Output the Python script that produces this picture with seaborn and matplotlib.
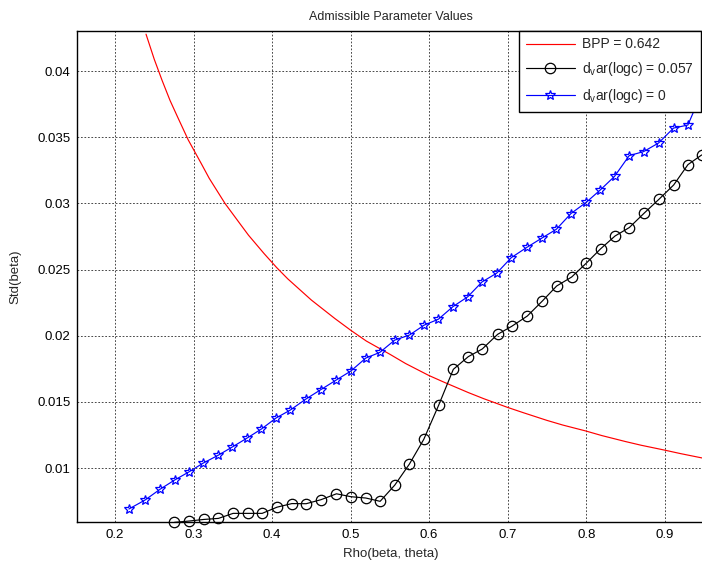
import matplotlib
matplotlib.use("Agg")
import matplotlib.pyplot as plt
import seaborn as sns
import pandas as pd

# ---- data ----
bpp_x = [0.2395, 0.25, 0.26, 0.27, 0.28, 0.2933, 0.31, 0.32, 0.3401, 0.36, 0.37,
         0.39, 0.4059, 0.42, 0.45, 0.48, 0.5005, 0.52, 0.55, 0.57, 0.5995, 0.62,
         0.65, 0.67, 0.70, 0.72, 0.75, 0.77, 0.7994, 0.82, 0.85, 0.87, 0.90, 0.92,
         0.9475]
bpp_y = [0.0428, 0.0409, 0.0393, 0.0378, 0.0365, 0.0348, 0.0330, 0.0319, 0.0300,
         0.0284, 0.0276, 0.0262, 0.02515, 0.0243, 0.0227, 0.0213, 0.0204, 0.0196,
         0.0186, 0.0179, 0.0170, 0.01646, 0.0157, 0.01523, 0.01458, 0.01418, 0.0136,
         0.01325, 0.01280, 0.01245, 0.0120, 0.01172, 0.01135, 0.01109, 0.01076]

dv57_x = [0.2757, 0.2944, 0.3131, 0.3317, 0.3504, 0.3692, 0.3874, 0.4064, 0.4252,
          0.4434, 0.4621, 0.4820, 0.5003, 0.5194, 0.5376, 0.5563, 0.5749, 0.5932,
          0.6123, 0.6308, 0.6499, 0.6677, 0.6873, 0.7051, 0.7250, 0.7441, 0.7624,
          0.7815, 0.7998, 0.8185, 0.8367, 0.8549, 0.8740, 0.8927, 0.9114, 0.9296,
          0.9471]
dv57_y = [0.00589, 0.00599, 0.00611, 0.00619, 0.00657, 0.00657, 0.00657, 0.00704,
          0.00731, 0.00730, 0.00760, 0.00805, 0.00783, 0.00773, 0.00748, 0.00871,
          0.01030, 0.01217, 0.01477, 0.01746, 0.01842, 0.01900, 0.02011, 0.02071,
          0.02149, 0.02262, 0.02376, 0.02444, 0.02547, 0.02658, 0.02754, 0.02818,
          0.02928, 0.03032, 0.03140, 0.03294, 0.03367]

dv0_x = [0.2177, 0.2383, 0.2578, 0.2759, 0.2940, 0.3126, 0.3313, 0.3494, 0.3684,
         0.3865, 0.4051, 0.4232, 0.4430, 0.4617, 0.4817, 0.5003, 0.5193, 0.5372,
         0.5562, 0.5749, 0.5936, 0.6118, 0.6305, 0.6491, 0.6674, 0.6860, 0.7047,
         0.7247, 0.7432, 0.7620, 0.7806, 0.8001, 0.8179, 0.8361, 0.8548, 0.8730,
         0.8921, 0.9112, 0.9295, 0.9480]
dv0_y = [0.00690, 0.00758, 0.00841, 0.00909, 0.00970, 0.01038, 0.01096, 0.01159,
         0.01227, 0.01295, 0.01378, 0.01438, 0.01521, 0.01591, 0.01665, 0.01733,
         0.01831, 0.01874, 0.01967, 0.02005, 0.02080, 0.02125, 0.02221, 0.02294,
         0.02407, 0.02473, 0.02591, 0.02669, 0.02737, 0.02805, 0.02924, 0.03009,
         0.03102, 0.03205, 0.03362, 0.03392, 0.03457, 0.03570, 0.03593, 0.03850]

x_ticks = [0.2, 0.3, 0.4, 0.5, 0.6, 0.7, 0.8, 0.9]
x_ticklabels = ["0.2", "0.3", "0.4", "0.5", "0.6", "0.7", "0.8", "0.9"]
y_ticks = [0.01, 0.015, 0.02, 0.025, 0.03, 0.035, 0.04]
y_ticklabels = ["0.01", "0.015", "0.02", "0.025", "0.03", "0.035", "0.04"]

labels = ["BPP = 0.642",
          r"d$_\mathregular{v}$ar(logc) = 0.057",
          r"d$_\mathregular{v}$ar(logc) = 0"]

# ---- plotting ----
sns.set_style("white")
plt.rcParams['font.family'] = ['Liberation Sans', 'DejaVu Sans']
plt.rcParams['mathtext.fontset'] = 'custom'
plt.rcParams['mathtext.rm'] = 'Liberation Sans'

fig = plt.figure(figsize=(7.02, 5.68), dpi=100)
ax = fig.add_axes([77.3 / 702, 1 - 521.7 / 568, (704 - 77.3) / 702, (521.7 - 31) / 568])

df_bpp = pd.DataFrame({"x": bpp_x, "y": bpp_y})
df_57 = pd.DataFrame({"x": dv57_x, "y": dv57_y})
df_0 = pd.DataFrame({"x": dv0_x, "y": dv0_y})

sns.lineplot(data=df_bpp, x="x", y="y", ax=ax, color="red", linewidth=0.85,
             estimator=None, label=labels[0])
sns.lineplot(data=df_57, x="x", y="y", ax=ax, color="black", linewidth=0.85,
             estimator=None, marker="o", markersize=7.5, markerfacecolor="none",
             markeredgecolor="black", markeredgewidth=0.9, clip_on=False,
             label=labels[1])
sns.lineplot(data=df_0, x="x", y="y", ax=ax, color="blue", linewidth=0.85,
             estimator=None, marker="*", markersize=7.5, markerfacecolor="none",
             markeredgecolor="blue", markeredgewidth=0.9, label=labels[2])

ax.set_xlim(0.152, 0.95)
ax.set_ylim(0.00594, 0.04304)
ax.set_xticks(x_ticks)
ax.set_xticklabels(x_ticklabels)
ax.set_yticks(y_ticks)
ax.set_yticklabels(y_ticklabels)

ax.grid(True, color="black", linestyle=(0, (2.5, 2.5)), linewidth=0.5)
ax.set_axisbelow(True)
ax.tick_params(direction="in", length=4, width=0.8, labelsize=9.5, colors="black",
               pad=5)
for s in ax.spines.values():
    s.set_color("black")
    s.set_linewidth(1.0)

ax.set_title("Admissible Parameter Values", fontsize=9, pad=8)
ax.set_xlabel("Rho(beta, theta)", fontsize=9.5, labelpad=5)
ax.set_ylabel("Std(beta)", fontsize=9.5, labelpad=11)

leg = ax.legend(loc="upper right", bbox_to_anchor=(701 / 702, 1 - 30.5 / 568),
                bbox_transform=fig.transFigure, borderaxespad=0, fancybox=False,
                framealpha=1, edgecolor="black", fontsize=10, handlelength=3.5,
                handletextpad=0.55, labelspacing=0.62, borderpad=0.5)
leg.get_frame().set_linewidth(1.0)
leg.set_zorder(10)

fig.savefig("out.png", dpi=100)
